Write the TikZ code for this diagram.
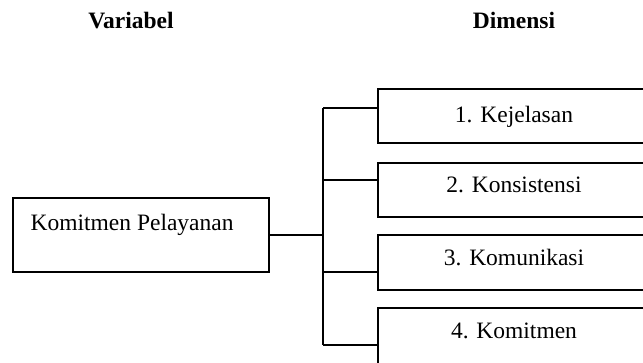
\documentclass[tikz,border=0pt]{standalone}
\usepackage{fontspec}
\setmainfont{Liberation Serif}
\begin{document}
\begin{tikzpicture}[x=1pt,y=-1pt,line width=1.2pt,
  box/.style={draw,rectangle,inner sep=0pt},
  lbl/.style={font=\fontsize{23.5}{28}\selectfont,anchor=base,inner sep=0pt},
  hdr/.style={font=\fontsize{23.5}{28}\selectfont\bfseries,anchor=base,inner sep=0pt},
  conn/.style={draw,line width=1.2pt}]
\useasboundingbox (0,0) rectangle (643,362);
\clip (0,0) rectangle (643,362);
% headers
\node[hdr] (hv) at (131,28) {Variabel};
\node[hdr] (hd) at (514,28) {Dimensi};
% variable box
\node[box,minimum width=256pt,minimum height=74pt] (var) at (141,235) {};
\node[lbl,anchor=base west] (tv) at (30,230) {Komitmen Pelayanan};
% dimension boxes
\node[box,minimum width=302pt,minimum height=54pt] (b1) at (529,116) {};
\node[box,minimum width=302pt,minimum height=54pt] (b2) at (529,190) {};
\node[box,minimum width=302pt,minimum height=55pt] (b3) at (529,262.5) {};
\node[box,minimum width=302pt,minimum height=60pt] (b4) at (529,338) {};
\node[lbl] (t1) at (514,122) {1. Kejelasan};
\node[lbl] (t2) at (514,192) {2. Konsistensi};
\node[lbl] (t3) at (514,265) {3. Komunikasi};
\node[lbl] (t4) at (514,338) {4. Komitmen};
% connectors
\coordinate (k1) at (323,108);
\coordinate (k2) at (323,180);
\coordinate (k3) at (323,272);
\coordinate (k4) at (323,345);
\draw[conn] (k1) -- (k4);
\draw[conn] (var.east) -- (var.east -| k1);
\draw[conn] (k1) -- (k1 -| b1.west);
\draw[conn] (k2) -- (k2 -| b2.west);
\draw[conn] (k3) -- (k3 -| b3.west);
\draw[conn] (k4) -- (k4 -| b4.west);
\end{tikzpicture}
\end{document}
